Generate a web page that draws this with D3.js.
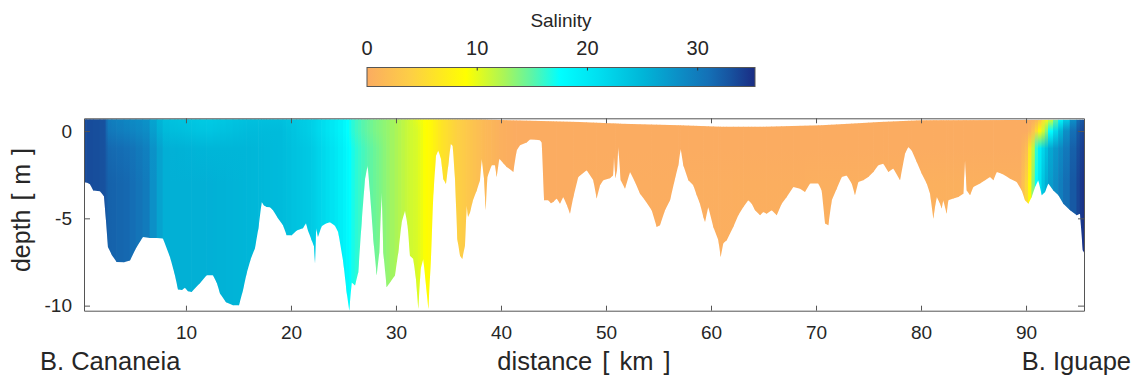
<!DOCTYPE html>
<html><head><meta charset="utf-8">
<script src="https://cdn.jsdelivr.net/npm/d3@7"></script>
<style>body{margin:0;background:#fff}svg{display:block;font-family:"Liberation Sans",Arial,Helvetica,sans-serif}</style>
</head><body><svg id="c" width="1136" height="382"></svg>
<script>
// ---------------- data ----------------
// bathymetry along the section (distance km, bottom depth m)
const bathKm = [0.29,0.54,0.86,1.17,1.81,2.19,2.38,2.57,2.95,3.40,4.10,4.67,5.24,5.90,6.57,7.24,7.81,8.48,8.95,9.24,9.62,9.90,10.19,10.54,10.95,11.33,11.97,12.57,12.95,13.24,13.81,14.48,15.05,15.43,15.78,16.19,16.57,16.90,17.21,17.43,17.69,18.00,18.29,18.76,19.24,19.59,20.07,20.55,20.86,21.14,21.43,21.62,21.97,22.19,22.29,22.40,22.57,22.92,23.33,23.71,24.19,24.50,24.98,25.30,25.55,25.78,26.10,26.41,26.73,27.05,27.30,27.52,27.84,28.16,28.41,28.64,28.79,29.11,29.43,29.90,30.22,30.54,30.86,31.11,31.33,31.65,31.90,32.12,32.35,32.60,32.86,33.08,33.33,33.55,33.81,34.03,34.29,34.50,34.76,34.98,35.21,35.40,35.62,35.84,36.10,36.31,36.57,36.73,36.86,37.05,37.33,37.69,38.00,38.16,38.38,38.54,38.70,39.11,39.43,39.59,39.84,40.22,40.54,40.86,41.17,41.49,41.81,42.45,42.76,43.33,43.71,43.88,44.10,44.50,44.76,44.98,45.30,45.62,45.93,46.29,46.57,46.89,47.36,48.16,48.79,49.11,49.43,49.74,50.38,50.67,50.76,50.89,51.05,51.17,51.40,51.81,52.29,52.76,53.24,53.71,54.35,54.83,55.14,55.62,56.10,56.57,56.89,57.11,57.36,57.84,58.31,58.64,58.95,59.27,59.43,59.74,60.22,60.70,60.92,61.17,61.50,62.12,62.60,63.08,63.55,63.88,64.19,64.67,64.98,65.30,65.78,66.26,66.73,67.21,67.84,68.48,68.95,69.43,70.22,70.54,70.86,71.17,71.50,71.97,72.45,72.92,73.40,73.71,74.03,74.50,74.98,75.46,75.93,76.41,76.89,77.36,78.00,78.48,78.79,79.11,79.59,80.07,80.54,80.86,81.17,81.33,81.50,81.81,81.97,82.12,82.44,82.60,83.08,83.55,84.03,84.19,84.35,84.67,84.98,85.62,86.10,86.57,86.89,87.21,87.69,88.00,88.48,89.11,89.59,89.90,90.22,90.54,90.86,91.17,91.50,91.81,92.12,92.60,93.08,93.55,94.19,94.83,95.14,95.40,95.52];
const bathDepth = [-2.94,-2.94,-3.05,-3.40,-3.45,-3.74,-5.11,-6.64,-7.12,-7.50,-7.52,-7.41,-6.72,-6.07,-6.12,-6.12,-6.15,-7.22,-8.26,-9.07,-9.10,-8.98,-9.18,-9.22,-8.95,-8.72,-8.26,-8.26,-8.72,-9.31,-9.81,-9.98,-9.98,-9.12,-8.15,-7.29,-6.72,-5.57,-4.07,-4.26,-4.35,-4.37,-4.54,-5.00,-5.40,-5.97,-5.97,-5.69,-5.63,-5.57,-5.28,-5.69,-6.26,-6.60,-7.58,-5.57,-6.07,-5.46,-5.29,-5.23,-5.42,-5.80,-7.52,-9.24,-10.29,-8.67,-8.85,-8.09,-5.23,-2.75,-1.98,-3.51,-6.19,-8.28,-6.95,-3.51,-6.95,-8.95,-8.67,-8.28,-6.95,-5.23,-4.56,-5.42,-7.14,-7.33,-8.48,-10.19,-7.90,-7.33,-8.85,-10.19,-7.33,-3.70,-1.41,-1.12,-1.60,-2.75,-3.04,-1.98,-0.74,-0.84,-2.75,-6.19,-7.14,-7.33,-6.56,-4.27,-4.93,-4.66,-3.97,-3.40,-2.82,-1.58,-2.71,-4.54,-2.63,-1.96,-1.96,-2.63,-1.58,-1.85,-2.06,-2.19,-2.35,-1.11,-0.82,-0.65,-0.49,-0.50,-0.53,-0.65,-3.97,-3.97,-4.14,-4.07,-3.87,-4.16,-3.78,-4.26,-4.73,-3.78,-2.63,-2.25,-2.82,-3.87,-3.11,-2.82,-2.71,-2.54,-1.49,-2.71,-2.25,-0.92,-2.82,-3.30,-2.35,-2.92,-3.59,-3.97,-4.54,-5.50,-5.40,-4.54,-3.97,-2.73,-1.96,-1.01,-1.96,-2.82,-3.11,-3.68,-4.16,-4.93,-5.21,-4.35,-5.50,-6.26,-7.22,-6.43,-6.26,-5.50,-4.83,-4.35,-3.97,-4.16,-4.54,-4.83,-4.64,-4.73,-4.54,-4.83,-4.16,-3.78,-3.21,-3.30,-3.49,-3.01,-3.01,-3.40,-5.30,-5.40,-3.97,-3.30,-2.63,-2.54,-3.01,-3.68,-2.92,-2.82,-2.63,-2.35,-1.96,-1.87,-2.35,-2.15,-2.82,-1.29,-0.92,-1.11,-1.78,-2.44,-3.01,-3.59,-5.02,-4.35,-3.78,-4.16,-4.44,-3.97,-4.73,-3.97,-3.87,-3.78,-3.59,-1.68,-3.40,-3.68,-3.21,-3.01,-2.82,-2.63,-2.82,-2.35,-2.44,-2.54,-2.73,-2.92,-3.40,-3.97,-4.16,-3.78,-3.21,-2.82,-3.68,-3.49,-3.01,-3.40,-3.68,-4.16,-4.54,-4.83,-4.73,-6.83,-6.95];

// sea-surface level along the section (m)
const surfKm    = [0.29, 38, 42, 47.5, 51.5, 57, 61, 65, 70.5, 74, 76, 80, 95.52];
const surfDepth = [0.68, 0.66, 0.60, 0.52, 0.42, 0.33, 0.24, 0.24, 0.33, 0.45, 0.52, 0.62, 0.64];

// salinity section: stations (km) and values at the depths in salDepths
const sKm   = [0.29,2.3,2.6,4.5,6.3,7.3,8.2,12,16,19,22,24,25,26.1,27,28,29.4,30.4,31.3,32.1,32.8,33.3,34.2,35.6,37,38.5,40,41.5,89.5,90.1,90.5,90.9,91.3,91.8,92.3,93.0,93.8,94.5,95.1,95.52];
const salDepths = [0.7, 0, -1, -3, -10.5];
const salTop = [33.5,33,30,29,28,25.5,24,23,24,24,22.5,20,18.5,16,15,14,13,12,11,10,9,8.5,6.5,4.5,3,1.5,0.5,0,0,0,0,0.5,2,7,10,16,22,28,32,33];
const sal0m  = [33.5,33,30.5,29.5,28.5,26,24.5,23.5,24.5,24.5,22.5,20,18.5,16,15,14,13,12,11,10.5,9,8.5,6.5,4.5,3,1.5,0.5,0,0,0,1,4,8,12,17,23,28,31,33,34];
const sal1m  = [33.5,33,31.5,31,29.5,27,25.5,25,25,24.5,23,20.5,19,16.5,15.5,14.5,13,12,11,10.5,9,8.5,6.5,4.5,3,1.5,0.5,0,0,2,8,15,19,23,26,28,30,32,33.5,34.5];
const sal3m  = [33.5,33,32,31.5,30,27,25.5,25.5,25,24.5,23,20.5,19,16.5,15.5,14.5,13,12,11,10.5,9,8.5,6.5,4.5,3,1.5,0.5,0,0.5,5,10,17,20,25,27,29,31,32.5,34,35];
const salBot = [33.5,33,32,31.5,30,27,25.5,25.5,25,24.5,23,20.5,19,16.5,15.5,14.5,13,12,11,10.5,9,8.5,6.5,4.5,3,1.5,0.5,0,1,6,10,17,20,25,27,29,31,32.5,34,35];

// axes ticks
const xTicks = [10,20,30,40,50,60,70,80,90];
const yTicks = [0,-5,-10];
const cbTicks = [0,10,20,30];

// colormap
const cmapStops  = [0,4,9,12.5,15,17.5,21,25,28,31,33,35];
const cmapColors = ["#fbac61","#fdcf45","#ffff00","#a8f55a","#5cf5a8","#00ffff","#00dff0","#00b6d8","#0b92c8","#1470b6","#17529f","#1a2f86"];

// ---------------- drawing ----------------
const svg = d3.select("#c");
const P = {l:84, r:1084, t:118.3, b:310.7};
const xs = d3.scaleLinear().domain([0.29,95.52]).range([P.l,P.r]);
const ys = d3.scaleLinear().domain([0.73,-10.29]).range([P.t,P.b]);
const cmap = d3.scaleLinear().domain(cmapStops).range(cmapColors).interpolate(d3.interpolateRgb).clamp(true);
const TXT = "#262626", AX = "#555";

const defs = svg.append("defs");
defs.append("clipPath").attr("id","box").append("rect")
  .attr("x",P.l).attr("y",P.t).attr("width",P.r-P.l).attr("height",P.b-P.t);

const waterPts = surfKm.map((k,i)=>[k,surfDepth[i]])
  .concat(bathKm.map((k,i)=>[k,bathDepth[i]]).reverse());
const line = d3.line().x(d=>xs(d[0])).y(d=>ys(d[1]));
defs.append("clipPath").attr("id","water").append("path").attr("d", line(waterPts)+"Z");

const levelData = [salTop, sal0m, sal1m, sal3m, salBot];
const levelScales = levelData.map(a => d3.scaleLinear().domain(sKm).range(a).clamp(true));
const gTop = ys(salDepths[0]), gBot = ys(salDepths[salDepths.length-1]);

const strips = d3.range(bathKm.length-1).map(i => ({k0:bathKm[i], k1:bathKm[i+1], mid:(bathKm[i]+bathKm[i+1])/2, id:"sg"+i}));

const grads = defs.selectAll("linearGradient.s").data(strips).join("linearGradient")
  .attr("class","s").attr("id",d=>d.id).attr("gradientUnits","userSpaceOnUse")
  .attr("x1",0).attr("x2",0).attr("y1",gTop).attr("y2",gBot);
grads.selectAll("stop").data(d => salDepths.map((dep,j)=>({off:(ys(dep)-gTop)/(gBot-gTop), s:levelScales[j](d.mid)})))
  .join("stop").attr("offset",d=>d.off).attr("stop-color",d=>cmap(d.s));

const gBox = svg.append("g").attr("clip-path","url(#box)");
const gWater = gBox.append("g").attr("clip-path","url(#water)");
gWater.selectAll("rect").data(strips).join("rect")
  .attr("x",d=>xs(d.k0)-0.3).attr("width",d=>xs(d.k1)-xs(d.k0)+0.6)
  .attr("y",P.t).attr("height",P.b-P.t)
  .attr("fill",d=>`url(#${d.id})`);

// axes
function style(g){
  g.attr("font-family",null).attr("font-size",null);
  g.selectAll(".domain").attr("stroke",AX).attr("stroke-width",1);
  g.selectAll(".tick line").attr("stroke",AX).attr("stroke-width",1);
  g.selectAll(".tick text").attr("fill",TXT).attr("font-size",19);
}
svg.append("g").attr("transform",`translate(0,${P.b})`)
  .call(d3.axisBottom(xs).tickValues(xTicks).tickSize(-5).tickSizeOuter(0).tickPadding(15)).call(style);
svg.append("g").attr("transform",`translate(0,${P.t})`)
  .call(d3.axisTop(xs).tickValues(xTicks).tickSize(-5).tickSizeOuter(0).tickFormat("")).call(style);
svg.append("g").attr("transform",`translate(${P.l},0)`)
  .call(d3.axisLeft(ys).tickValues(yTicks).tickSize(-6).tickSizeOuter(0).tickPadding(12).tickFormat(d=>String(d))).call(style);
svg.append("g").attr("transform",`translate(${P.r},0)`)
  .call(d3.axisRight(ys).tickValues(yTicks).tickSize(-6).tickSizeOuter(0).tickFormat("")).call(style);

// axis labels
svg.append("text").attr("transform","translate(30,210) rotate(-90)").attr("text-anchor","middle")
  .attr("font-size",25).attr("word-spacing",2).attr("fill",TXT).text("depth [ m ]");
svg.append("text").attr("x",584).attr("y",370).attr("text-anchor","middle")
  .attr("font-size",25.5).attr("word-spacing",3).attr("fill",TXT).text("distance [ km ]");
svg.append("text").attr("x",40).attr("y",370).attr("text-anchor","start")
  .attr("font-size",25.5).attr("fill",TXT).text("B. Cananeia");
svg.append("text").attr("x",1131).attr("y",370).attr("text-anchor","end")
  .attr("font-size",25.5).attr("fill",TXT).text("B. Iguape");

// colorbar
const cb = {l:367, r:755, t:67.5, b:86.5};
const cx = d3.scaleLinear().domain([0,35.2]).range([cb.l,cb.r]);
const cg = defs.append("linearGradient").attr("id","cbg").attr("gradientUnits","userSpaceOnUse")
  .attr("x1",cb.l).attr("x2",cb.r).attr("y1",0).attr("y2",0);
cg.selectAll("stop").data(cmapStops).join("stop")
  .attr("offset",d=>(cx(d)-cb.l)/(cb.r-cb.l)).attr("stop-color",d=>cmap(d));
svg.append("rect").attr("x",cb.l).attr("y",cb.t).attr("width",cb.r-cb.l).attr("height",cb.b-cb.t)
  .attr("fill","url(#cbg)").attr("stroke",AX).attr("stroke-width",1);
svg.selectAll("line.cbt").data(cbTicks.filter(d=>d>0)).join("line").attr("class","cbt")
  .attr("x1",d=>cx(d)).attr("x2",d=>cx(d)).attr("y1",cb.t).attr("y2",cb.t+3).attr("stroke","#333");
svg.selectAll("text.cbl").data(cbTicks).join("text").attr("class","cbl")
  .attr("x",d=>cx(d)).attr("y",55).attr("text-anchor","middle").attr("font-size",20).attr("fill",TXT).text(d=>d);
svg.append("text").attr("x",561).attr("y",27).attr("text-anchor","middle")
  .attr("font-size",19).attr("fill",TXT).text("Salinity");
</script></body></html>
